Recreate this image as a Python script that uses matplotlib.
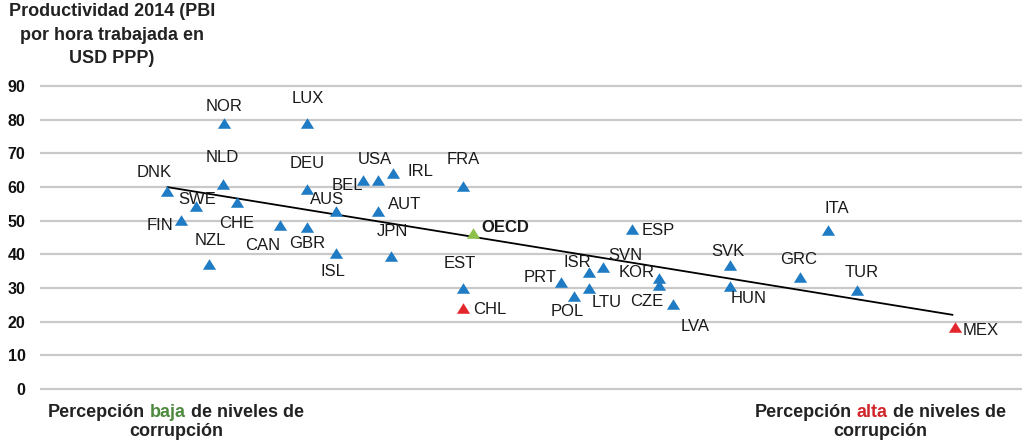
import matplotlib
matplotlib.use("Agg")
import matplotlib.pyplot as plt
from matplotlib.offsetbox import TextArea, HPacker, VPacker, AnnotationBbox

plt.rcParams['font.family'] = ['Liberation Sans', 'DejaVu Sans']

# ---------------- data ----------------
countries = ["DNK", "FIN", "SWE", "NZL", "NOR", "NLD", "CHE", "CAN", "GBR", "DEU",
             "LUX", "AUS", "ISL", "BEL", "USA", "AUT", "IRL", "JPN", "FRA", "EST",
             "CHL", "OECD", "PRT", "POL", "ISR", "LTU", "SVN", "ESP", "KOR", "CZE",
             "LVA", "SVK", "HUN", "GRC", "ITA", "TUR", "MEX"]
# perception of corruption (position along the horizontal axis, 0-100 scale)
corruption = [12.9, 14.4, 15.9, 17.2, 18.7, 18.6, 20.1, 24.4, 27.2, 27.2,
              27.2, 30.1, 30.1, 32.9, 34.4, 34.4, 35.9, 35.7, 43.1, 43.1,
              43.1, 44.1, 53.1, 54.4, 55.9, 55.9, 57.3, 60.3, 63.0, 63.0,
              64.5, 70.3, 70.3, 77.4, 80.2, 83.2, 93.2]
# productivity 2014 (GDP per hour worked, USD PPP)
productivity = [58.8, 50.2, 54.4, 37.1, 79.0, 60.9, 55.5, 48.7, 48.1, 59.4,
                79.0, 52.9, 40.4, 62.1, 62.1, 52.9, 64.2, 39.5, 60.3, 30.0,
                24.1, 46.3, 31.8, 27.6, 34.7, 30.0, 36.2, 47.5, 33.0, 30.9,
                25.2, 36.8, 30.6, 33.3, 47.2, 29.4, 18.4]
# marker group: 'blue' = other OECD countries, 'red' = Latin America, 'green' = OECD average
groups = ["blue"] * 20 + ["red", "green"] + ["blue"] * 14 + ["red"]

trend_x = [12.9, 93.0]
trend_y = [60.0, 22.0]

y_ticks = [0, 10, 20, 30, 40, 50, 60, 70, 80, 90]

title_text = "Productividad 2014 (PBI\npor hora trabajada en\nUSD PPP)"
left_note = [("Percepción", "#222222"), ("baja", "#4e8a3e"), ("de niveles de", "#222222")]
right_note = [("Percepción", "#222222"), ("alta", "#d0262b"), ("de niveles de", "#222222")]
note_second = "corrupción"

# ---------------- styles ----------------
group_colors = {"blue": "#1f7bc3", "red": "#e3262c", "green": "#8cc04a"}
# label offsets in pixels (dx right, dy down) from each marker
label_off = {
    "DNK": (-12, -19), "NOR": (0, -17), "LUX": (1, -25), "NLD": (0, -26), "DEU": (0, -26),
    "SWE": (1, -6), "FIN": (-21, 6), "CHE": (-1, 21), "NZL": (1, -24), "CAN": (-17, 20),
    "GBR": (0, 16), "AUS": (-9, -11), "ISL": (-3, 19), "BEL": (-16, 6), "USA": (-3, -20),
    "IRL": (28, -1), "AUT": (27, -6), "JPN": (2, -25), "FRA": (0, -26), "OECD": (32, -6),
    "EST": (-3, -25), "CHL": (27, 2), "PRT": (-21, -4), "ISR": (-12, -10), "SVN": (23, -12),
    "LTU": (18, 14), "POL": (-7, 15), "KOR": (-22, -5), "CZE": (-12, 17), "LVA": (22, 22),
    "ESP": (26, 1), "SVK": (-2, -14), "HUN": (18, 13), "GRC": (-1, -17), "ITA": (9, -22),
    "TUR": (5, -18), "MEX": (25, 3),
}

W, H = 1022, 444
fig = plt.figure(figsize=(W / 100, H / 100), dpi=100)
ax = fig.add_axes([40 / W, (H - 399.1) / H, 1 - 40 / W, (399.1 - 75.9) / H])
ax.set_xlim(0, 100)
ax.set_ylim(-3, 93)
ax.set_xticks([])
ax.set_yticks(y_ticks)
ax.yaxis.grid(True, color="#c9c9c9", lw=1.6)
ax.set_axisbelow(True)
for s in ax.spines.values():
    s.set_visible(False)
ax.tick_params(axis="y", length=0, pad=10.5, labelsize=11.5, labelcolor="#111111")
for lab in ax.get_yticklabels():
    lab.set_fontweight("bold")

tri = [(0, 0.8), (-1, -0.8), (1, -0.8), (0, 0.8)]

ax.plot(trend_x, trend_y, color="black", lw=1.3, zorder=2, solid_capstyle="butt")

for g, col in group_colors.items():
    xs = [x for x, gg in zip(corruption, groups) if gg == g]
    ys = [y for y, gg in zip(productivity, groups) if gg == g]
    ax.plot(xs, ys, linestyle="none", marker=tri, ms=9.5, color=col, mec="none", zorder=3)

for name, x, y in zip(countries, corruption, productivity):
    dx, dy = label_off[name]
    ax.annotate(name, (x, y), xytext=(dx * 0.72, -dy * 0.72), textcoords="offset points",
                ha="center", va="center", fontsize=12, color="#1a1a1a",
                fontweight="bold" if name == "OECD" else "normal", zorder=4)

fig.text(112 / W, 1 - 35 / H, title_text, ha="center", va="center", fontsize=13,
         fontweight="bold", linespacing=1.5, color="#222222")


def two_tone(parts, second, xy):
    tp = dict(fontsize=13, fontweight="bold", color="#222222")
    line1 = HPacker(children=[TextArea(s, textprops={**tp, "color": c}) for s, c in parts],
                    sep=3.6, pad=0, align="baseline")
    line2 = TextArea(second, textprops=tp)
    box = VPacker(children=[line1, line2], sep=1, pad=0, align="center")
    ab = AnnotationBbox(box, xy, xycoords="figure pixels", frameon=False,
                        box_alignment=(0.5, 0.5), pad=0)
    fig.add_artist(ab)


two_tone(left_note, note_second, (176, H - 422))
two_tone(right_note, note_second, (880, H - 422))

fig.savefig("out.png", dpi=100)
